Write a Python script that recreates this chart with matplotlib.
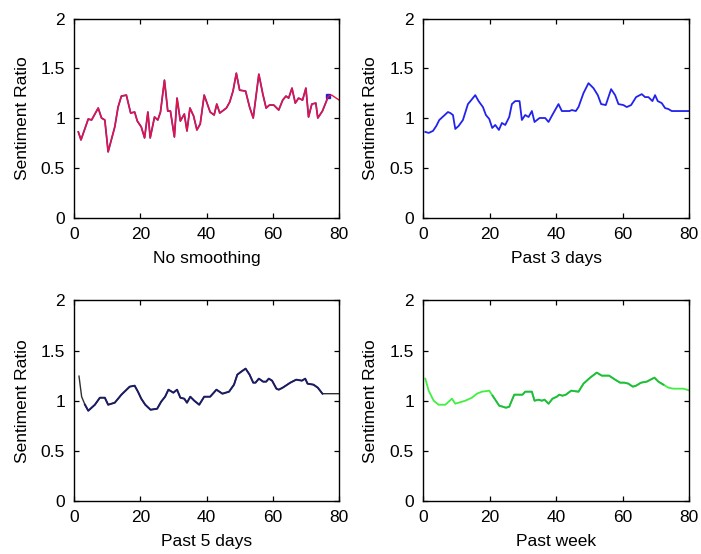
import matplotlib.pyplot as plt

# values, one list pair per panel
raw_x = [1.3, 2.1, 4.3, 5.3, 7.3, 8.3, 9.3, 10.3, 12.3, 13.3, 14.3, 15.8, 17.1, 18.3,
         19.1, 20.3, 21.3, 22.3, 23.0, 24.3, 25.3, 26.1, 27.3, 28.3, 29.1, 30.3, 31.1,
         32.1, 33.3, 34.1, 35.0, 36.1, 37.1, 38.1, 39.3, 41.1, 42.3, 43.1, 44.0, 46.0,
         47.0, 48.0, 49.0, 50.0, 51.8, 53.0, 54.1, 55.8, 57.0, 58.0, 59.0, 60.3, 61.8,
         63.0, 64.0, 64.8, 65.8, 66.8, 67.8, 69.0, 70.0, 70.8, 71.8, 73.0, 73.6, 75.0,
         76.8, 77.8, 80.5]
raw_y = [0.86, 0.78, 0.99, 0.98, 1.10, 1.00, 0.98, 0.66, 0.91, 1.11, 1.22, 1.23, 1.05,
         1.06, 0.97, 0.91, 0.80, 1.06, 0.80, 1.01, 0.98, 1.06, 1.38, 1.07, 1.07, 0.81,
         1.20, 0.97, 1.04, 0.87, 1.10, 1.02, 0.88, 0.94, 1.23, 1.06, 1.03, 1.14, 1.05,
         1.10, 1.16, 1.27, 1.45, 1.28, 1.27, 1.11, 1.00, 1.44, 1.24, 1.10, 1.13, 1.13,
         1.08, 1.18, 1.22, 1.20, 1.30, 1.15, 1.20, 1.18, 1.30, 1.01, 1.14, 1.15, 1.00,
         1.07, 1.22, 1.23, 1.17]

d3_x = [0.7, 1.7, 3.0, 4.0, 4.9, 6.2, 7.5, 8.2, 9.0, 9.7, 10.7, 12.0, 13.5, 14.5, 15.7,
        16.7, 18.0, 18.9, 19.9, 20.8, 21.7, 22.8, 23.7, 24.7, 25.9, 26.7, 27.7, 29.0,
        29.7, 30.7, 31.7, 32.7, 33.5, 35.0, 36.7, 37.7, 39.0, 40.7, 41.7, 44.0, 44.7,
        45.9, 46.7, 48.2, 49.7, 51.2, 52.5, 53.5, 54.9, 56.5, 57.7, 58.7, 60.2, 61.2,
        62.5, 64.0, 65.7, 66.7, 67.7, 68.9, 69.7, 70.5, 71.7, 72.7, 73.7, 74.7, 80.2]
d3_y = [0.86, 0.85, 0.87, 0.92, 0.98, 1.02, 1.06, 1.05, 1.03, 0.89, 0.92, 0.98, 1.14,
        1.18, 1.23, 1.17, 1.11, 1.03, 0.99, 0.90, 0.93, 0.88, 0.95, 0.93, 1.01, 1.14,
        1.17, 1.17, 0.98, 1.03, 1.01, 1.07, 0.96, 1.00, 1.00, 0.96, 1.04, 1.14, 1.07,
        1.07, 1.08, 1.07, 1.11, 1.25, 1.35, 1.30, 1.23, 1.14, 1.13, 1.29, 1.23, 1.14,
        1.13, 1.11, 1.13, 1.21, 1.24, 1.21, 1.21, 1.17, 1.23, 1.17, 1.15, 1.10, 1.09,
        1.07, 1.07]

d5_x = [1.5, 2.3, 3.3, 4.3, 5.3, 6.3, 7.8, 9.3, 10.3, 12.3, 14.3, 16.8, 18.3, 19.3,
        20.3, 21.5, 23.1, 25.1, 26.3, 27.5, 28.5, 30.0, 31.1, 32.1, 33.3, 34.1, 35.1,
        36.3, 37.8, 39.3, 41.1, 43.0, 44.8, 46.8, 48.3, 49.3, 50.5, 51.8, 53.0, 54.1,
        54.8, 55.8, 57.1, 58.0, 58.8, 59.8, 61.1, 61.8, 63.0, 65.3, 67.1, 68.8, 69.8,
        70.5, 72.3, 73.6, 75.0, 80.5]
d5_y = [1.245, 1.04, 0.96, 0.90, 0.93, 0.96, 1.03, 1.03, 0.96, 0.98, 1.06, 1.14, 1.15,
        1.09, 1.02, 0.96, 0.91, 0.92, 0.99, 1.04, 1.11, 1.08, 1.11, 1.03, 1.02, 0.98,
        1.04, 1.00, 0.96, 1.04, 1.04, 1.11, 1.07, 1.09, 1.16, 1.26, 1.29, 1.32, 1.26,
        1.18, 1.18, 1.22, 1.19, 1.19, 1.22, 1.20, 1.12, 1.11, 1.13, 1.18, 1.21, 1.20,
        1.22, 1.17, 1.16, 1.13, 1.07, 1.07]

wk_x = [0.7, 1.7, 3.2, 4.7, 6.7, 7.7, 8.7, 9.7, 10.7, 12.7, 14.7, 16.2, 17.7, 19.9,
        20.9, 22.9, 24.0, 24.9, 25.9, 27.4, 29.9, 30.7, 32.7, 33.5, 34.7, 35.7, 36.5,
        37.7, 38.9, 40.2, 40.9, 41.9, 42.9, 44.5, 46.7, 48.2, 50.2, 52.2, 53.7, 55.9,
        57.7, 59.2, 60.5, 61.7, 63.0, 64.0, 65.5, 67.2, 69.5, 70.7, 72.2, 73.7, 75.2,
        78.2, 80.2]
wk_y = [1.22, 1.10, 1.00, 0.96, 0.96, 0.99, 1.02, 0.97, 0.98, 1.00, 1.03, 1.07, 1.09,
        1.10, 1.05, 0.95, 0.94, 0.93, 0.94, 1.06, 1.06, 1.09, 1.09, 1.00, 1.01, 1.00,
        1.01, 0.97, 1.02, 1.04, 1.06, 1.05, 1.06, 1.10, 1.09, 1.17, 1.23, 1.28, 1.25,
        1.25, 1.21, 1.18, 1.18, 1.17, 1.14, 1.15, 1.18, 1.19, 1.23, 1.19, 1.16, 1.13,
        1.12, 1.12, 1.10]

titles = ['No smoothing', 'Past 3 days', 'Past 5 days', 'Past week']
yticks = [0, 0.5, 1, 1.5, 2]
ytick_labels = ['0', '0.5', '1', '1.5', '2']
xticks = [0, 20, 40, 60, 80]

plt.rcParams['font.family'] = ['Liberation Sans', 'DejaVu Sans']
fig = plt.figure(figsize=(7.01, 5.54), dpi=100)

boxes = [
    [0.1056, 0.6074, 0.378, 0.3592],
    [0.6034, 0.6074, 0.380, 0.3592],
    [0.1056, 0.0957, 0.378, 0.3620],
    [0.6034, 0.0957, 0.380, 0.3620],
]
axes = [fig.add_axes(b) for b in boxes]

# panel 1: blue trace underneath the red one, stopping at the marked point
n_blue = raw_x.index(76.8) + 1
axes[0].plot(raw_x[:n_blue], raw_y[:n_blue], color='#5030c0', lw=1.3)
axes[0].plot(raw_x[n_blue - 1], raw_y[n_blue - 1], 's', color='#2020e0', ms=3)
axes[0].plot(raw_x, raw_y, color='#f01038', lw=1.0)

axes[1].plot(d3_x, d3_y, color='#2222ee', lw=1.3)

axes[2].plot(d5_x, d5_y, color='#303030', lw=1.0)
axes[2].plot(d5_x[2:-1], d5_y[2:-1], color='#1c1c64', lw=1.4)

axes[3].plot(wk_x, wk_y, color='#40f040', lw=1.3)
axes[3].plot(wk_x[14:-4], wk_y[14:-4], color='#22bb40', lw=1.3)

for ax, t in zip(axes, titles):
    ax.set_xlim(0, 80)
    ax.set_ylim(0, 2)
    ax.set_xticks(xticks)
    ax.set_yticks(yticks)
    ax.set_yticklabels(ytick_labels)
    ax.tick_params(direction='in', length=3.5, width=0.9, top=True, right=True,
                   labelsize=12.5, pad=6.5)
    for s in ax.spines.values():
        s.set_linewidth(1.0)
    ax.set_xlabel(t, fontsize=12.5, labelpad=6.5)
    ax.set_ylabel('Sentiment Ratio', fontsize=12.5, labelpad=8)

fig.savefig('out.png', dpi=100)
